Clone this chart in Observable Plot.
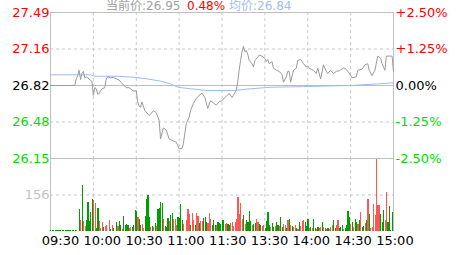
<!DOCTYPE html>
<html><head><meta charset="utf-8">
<script src="https://cdn.jsdelivr.net/npm/d3@7"></script>
<script src="https://cdn.jsdelivr.net/npm/@observablehq/plot@0.6"></script>
<style>
body{margin:0;background:#fff;}
#wrap{position:relative;width:463px;height:255px;overflow:hidden;background:#fff;font-family:"DejaVu Sans","Noto Sans CJK SC",sans-serif;}
#vol{position:absolute;left:0;top:158px;}
#price{position:absolute;left:0;top:0;}
#head{position:absolute;top:0;left:0;font-size:12px;line-height:12px;white-space:nowrap;}
#head span{position:absolute;top:0;}
</style></head><body>
<div id="wrap"><div id="vol"></div><div id="price"></div><div id="head"></div></div>
<script>
// ---- header values ----
const curPrice = "26.95";
const changePct = "0.48%";
const avgPriceNow = "26.84";

// ---- axes ----
const prevClose = 26.82;
const pctTicks = [2.5, 1.25, 0, -1.25, -2.5];
const pctLabels = ["+2.50%", "+1.25%", "0.00%", "-1.25%", "-2.50%"];
const tickColors = ["#ff0000", "#ff0000", "#000000", "#00dd00", "#00dd00"];
const timeTicks = [0, 30, 60, 90, 120, 150, 180, 210, 240];
const timeLabels = ["09:30", "10:00", "10:30", "11:00", "11:30", "13:30", "14:00", "14:30", "15:00"];
const volTick = 156;
const volMax = 312;

// ---- price line (minute index from 09:30, price) ----
const priceMin = [0,17,18,19,20,21,22,23,24,25,27,28,29,30,31,32,33,34,35,36,38,39,40,42,44,46,48,50,53,55,57,58,60,61,62,63,64,66,69,71,72,74,76,77,79,81,83,85,88,90,92,93,95,97,98,100,102,104,106,108,110,112,114,116,118,120,122,
  123,125,127,128,130,131,132,133,134,135,136,137,138,139,141,142,143,145,146,148,150,151,152,153,155,156,158,160,162,163,165,166,167,168,170,172,173,175,176,177,179,180,181,184,186,187,189,191,193,194,196,198,200,202,205,206,208,210,211,214,215,218,220,222,223,225,227,229,231,232,234,235,239,240];
const priceVal = [26.82,26.82,26.88,26.91,26.96,26.875,26.93,26.95,26.89,26.90,26.88,26.866,26.857,26.73,26.80,26.79,26.74,26.745,26.77,26.79,26.80,26.88,26.90,26.89,26.896,26.88,26.87,26.84,26.80,26.80,26.78,26.77,26.77,26.67,26.63,26.62,26.67,26.59,26.545,26.57,26.59,26.57,26.50,26.33,26.43,26.41,26.33,26.315,26.30,26.24,26.24,26.29,26.47,26.53,26.59,26.655,26.70,26.73,26.75,26.71,26.61,26.68,26.66,26.64,26.67,26.68,26.71,
  26.72,26.75,26.71,26.73,26.78,26.85,26.96,27.05,27.13,27.18,27.13,27.14,27.11,27.05,27.02,26.99,27.05,27.08,27.10,27.09,27.07,27.04,27.06,27.02,27.04,26.98,26.96,26.95,26.92,26.85,26.90,26.95,26.95,26.85,26.96,26.98,27.05,27.06,27.04,27.02,26.99,27.00,26.98,26.96,26.93,26.98,26.88,27.01,26.95,26.93,26.96,26.93,26.95,26.955,26.98,26.98,26.95,26.915,26.89,26.90,26.96,26.97,27.01,27.02,26.96,26.91,26.96,27.09,27.07,27.02,26.96,27.09,27.09,26.95];

// ---- average price line ----
const avgMin = [0,28,31,47,58,68,77,84,89,98,110,128,140,154,177,210,229,240];
const avgVal = [26.918,26.918,26.905,26.905,26.896,26.88,26.86,26.835,26.804,26.79,26.774,26.774,26.79,26.804,26.81,26.82,26.835,26.845];

// ---- volume per minute (0 = no bar) ----
const volVal = [
  3,3,3,3,3,3,3,3,3,3,
  3,3,3,3,3,3,3,3,6,0,
  93,48,198,44,20,48,122,44,83,136,
  132,121,13,100,41,13,38,15,20,27,
  0,48,10,27,13,0,38,20,44,27,
  10,65,27,30,27,13,15,15,27,88,
  86,58,52,27,30,13,62,135,153,58,
  15,20,15,34,20,93,97,122,118,51,
  20,17,55,41,69,77,51,51,27,58,
  55,114,48,30,0,48,93,73,27,76,
  48,27,76,65,34,44,44,55,58,38,
  34,76,52,27,48,27,27,38,34,30,
  46,46,30,35,30,25,35,39,21,39,
  52,145,72,119,51,67,32,46,39,84,
  42,25,32,35,51,39,32,25,21,25,
  13,44,81,25,15,35,18,21,39,25,
  21,60,18,32,25,11,46,52,25,21,
  18,24,11,7,39,21,42,46,39,21,
  52,11,18,14,52,11,7,18,11,18,
  39,15,11,7,11,10,18,25,46,11,
  24,46,11,18,25,7,14,25,84,60,
  32,39,18,52,39,30,46,81,15,21,
  35,46,138,72,11,15,114,69,308,110,
  110,72,39,91,46,167,39,105,4,80
];
// r = up (red), g = down (green)
const volDir = (
  "gggggggggg" + "ggggggggrg" + "grgrrggggg" + "rrggrrrgrr" +
  "grgrgggrgg" + "rggggrrggg" + "grggrrgggg" + "rgrgrggggr" +
  "gggrggrrrg" + "gggrgrrrgr" + "rgrrgrrggg" + "rrrgggrggg" +
  "ggrrggrrrr" + "rrrrrgrggg" + "grggrrggrr" + "ggggrggrgg" +
  "rggrrgrgrg" + "rrgrgrrrgg" + "grgrggrgrr" + "grgrgrrrgg" +
  "rrgggrgggg" + "rgrggrgrgg" + "rgrgrrrrrr" + "rgggrrgggg"
).split("");

const FONT = '"DejaVu Sans", "Noto Sans CJK SC", sans-serif';
const GRID = "#c8c8c8", BORDER = "#c0c0c0";
const yTicks = pctTicks.map(p => prevClose * (1 + p / 100));

const price = priceMin.map((m, i) => ({m, p: priceVal[i]}));
const avg = avgMin.map((m, i) => ({m, p: avgVal[i]}));
const vol = volVal.map((v, m) => ({m, v, up: volDir[m] === "r"})).filter(d => d.v > 0);

const priceChart = Plot.plot({
  width: 463, height: 158,
  marginLeft: 50, marginRight: 70, marginTop: 12, marginBottom: 0,
  style: {background: "transparent", overflow: "visible", fontFamily: FONT, fontSize: "13px"},
  x: {domain: [0, 240], axis: null},
  y: {domain: [yTicks[4], yTicks[0]], axis: null},
  color: {type: "identity"},
  marks: [
    Plot.ruleY([yTicks[1], yTicks[3]], {stroke: GRID, strokeDasharray: "3,3"}),
    Plot.ruleX(timeTicks.slice(1, -1), {stroke: GRID, strokeDasharray: "3,3"}),
    Plot.ruleY([prevClose], {stroke: "#bdbdbd"}),
    Plot.ruleY([yTicks[0], yTicks[4]], {stroke: BORDER}),
    Plot.ruleX([0, 240], {stroke: BORDER}),
    Plot.line(avg, {x: "m", y: "p", stroke: "#9dbcf0", strokeWidth: 1}),
    Plot.line(price, {x: "m", y: "p", stroke: "#9a9a9a", strokeWidth: 1}),
    Plot.text(yTicks, {y: d => d, frameAnchor: "left", textAnchor: "end", dx: -1,
      text: d => d.toFixed(2), fill: (d, i) => tickColors[i], fontSize: 13}),
    Plot.text(pctLabels, {y: (d, i) => yTicks[i], frameAnchor: "right", textAnchor: "start", dx: 2,
      text: d => d, fill: (d, i) => tickColors[i], fontSize: 13})
  ]
});

const volChart = Plot.plot({
  width: 463, height: 97,
  marginLeft: 50, marginRight: 70, marginTop: 0, marginBottom: 24,
  style: {background: "transparent", overflow: "visible", fontFamily: FONT, fontSize: "13px"},
  x: {domain: [0, 240], axis: null},
  y: {domain: [0, volMax], axis: null},
  color: {type: "identity"},
  marks: [
    Plot.ruleY([volTick], {stroke: GRID, strokeDasharray: "3,3"}),
    Plot.ruleX(timeTicks.slice(1, -1), {stroke: GRID, strokeDasharray: "3,3"}),
    Plot.ruleX([0, 240], {stroke: BORDER}),
    Plot.rectY(vol, {x1: d => d.m + 0.15, x2: d => d.m + 0.95, y: "v",
      fill: d => d.up ? "#ff5555" : "#009e00", shapeRendering: "crispEdges"}),
    Plot.text([volTick], {y: d => d, frameAnchor: "left", textAnchor: "end", dx: -1,
      text: d => String(d), fill: "#c3c3c3", fontSize: 13}),
    // time labels are spread slightly wider than the grid in the original
    Plot.text(timeLabels, {x: (d, i) => timeTicks[i] * 0.975 + 7, frameAnchor: "bottom",
      lineAnchor: "top", dy: 4, text: d => d, fill: "#000", fontSize: 13})
  ]
});

document.getElementById("price").appendChild(priceChart);
document.getElementById("vol").appendChild(volChart);

const head = document.getElementById("head");
head.innerHTML =
  `<span style="left:106px;color:#a0a0a0">当前价:${curPrice}</span>` +
  `<span style="left:187px;color:#ff0000">${changePct}</span>` +
  `<span style="left:229px;color:#a3bdee">均价:${avgPriceNow}</span>`;
</script>
</body></html>
